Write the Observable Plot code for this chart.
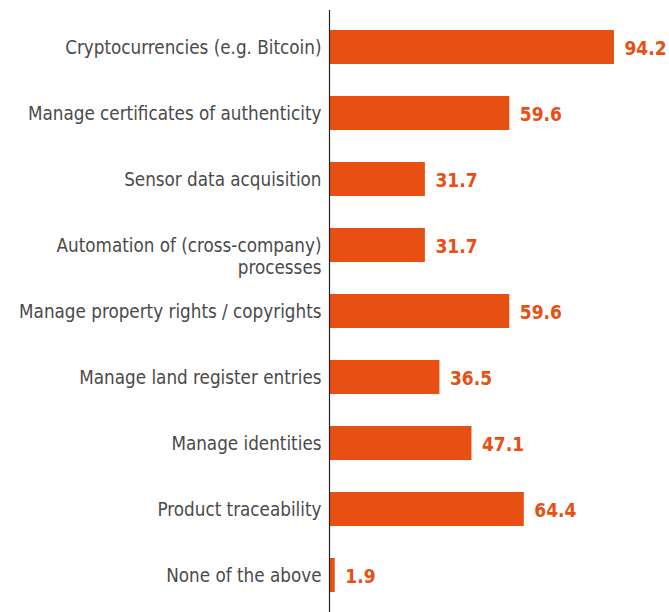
<!DOCTYPE html>
<html>
<head>
<meta charset="utf-8">
<script src="https://cdn.jsdelivr.net/npm/d3@7"></script>
<script src="https://cdn.jsdelivr.net/npm/@observablehq/plot@0.6"></script>
<style>
  html, body { margin: 0; padding: 0; background: #fff; }
  #chart svg { display: block; }
</style>
</head>
<body>
<div id="chart"></div>
<script>
const categories = [
  "Cryptocurrencies (e.g. Bitcoin)",
  "Manage certificates of authenticity",
  "Sensor data acquisition",
  "Automation of (cross-company) processes",
  "Manage property rights / copyrights",
  "Manage land register entries",
  "Manage identities",
  "Product traceability",
  "None of the above"
];
const tickLabels = [
  "Cryptocurrencies (e.g. Bitcoin)",
  "Manage certificates of authenticity",
  "Sensor data acquisition",
  "Automation of (cross-company)\nprocesses",
  "Manage property rights / copyrights",
  "Manage land register entries",
  "Manage identities",
  "Product traceability",
  "None of the above"
];
const values = [94.2, 59.6, 31.7, 31.7, 59.6, 36.5, 47.1, 64.4, 1.9];

const data = categories.map((c, i) => ({category: c, label: tickLabels[i], value: values[i]}));

const orange = "#e84f12";
const font = "'DejaVu Sans Condensed', 'Liberation Sans Narrow', sans-serif";
const fs = 18.7;
const lh = 1.18;

const chart = Plot.plot({
  width: 669,
  height: 612,
  marginLeft: 329,
  marginRight: 37.5,
  marginTop: 10,
  marginBottom: 0,
  style: {fontFamily: font, background: "#fff"},
  x: {domain: [0, 100], axis: null},
  y: {domain: categories, axis: null, paddingInner: 0.485, paddingOuter: 0.3},
  marks: [
    Plot.barX(data, {x: "value", y: "category", fill: orange}),
    Plot.ruleX([0], {stroke: "#222", strokeWidth: 1.2}),
    Plot.text(data, {
      x: 0, y: "category", text: "label",
      textAnchor: "end", dx: -8,
      lineAnchor: "top", dy: -fs * lh / 2 + 2,
      lineHeight: lh,
      fontSize: fs, fill: "#4a4a4a"
    }),
    Plot.text(data, {
      x: "value", y: "category", text: d => d.value.toFixed(1),
      textAnchor: "start", dx: 10, dy: 1,
      fontSize: 19, fontWeight: "bold", fill: orange
    })
  ]
});
document.getElementById("chart").append(chart);
</script>
</body>
</html>
